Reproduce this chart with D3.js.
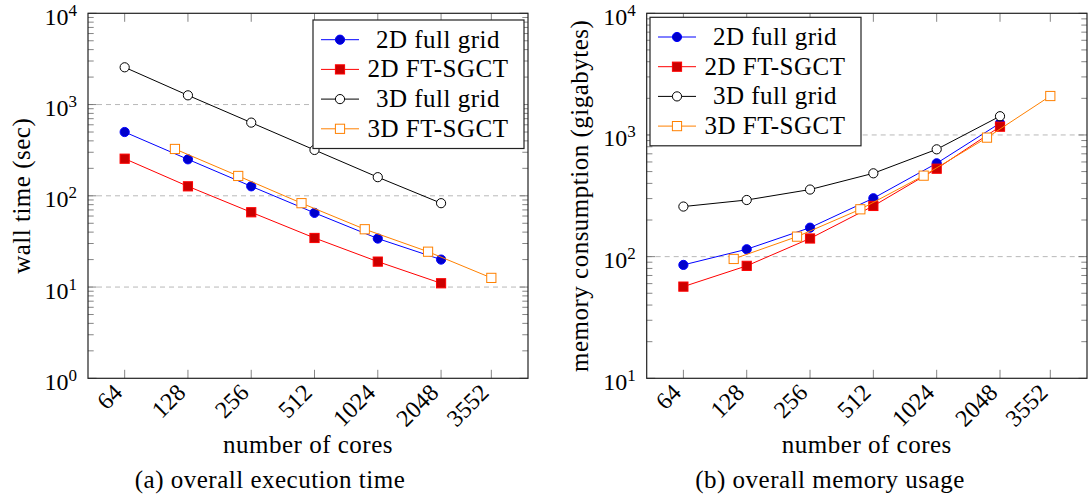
<!DOCTYPE html>
<head>
  <meta charset="utf-8">
  <script src="https://d3js.org/d3.v7.min.js"></script>
  <style>
    body { margin: 0; background: #fff; }
    svg text { fill: #000; }
    .tick-label { font-size: 24px; }
    .axis-label, .caption, .legend-label { font-size: 25px; letter-spacing: 0.5px; }
  </style>
</head>
<body>
<div id="chart"></div>
<script>

// ---------------- data ----------------
const cores = [64, 128, 256, 512, 1024, 2048];
const coresFT3D = [111, 222, 444, 888, 1776, 3552];
const tickCores = [64, 128, 256, 512, 1024, 2048, 3552];
const seriesNames = ["2D full grid", "2D FT-SGCT", "3D full grid", "3D FT-SGCT"];

// (a) wall time in seconds
const time2DFull = [500, 251, 127, 65, 34, 20];
const time2DFT = [255, 127, 66, 34.5, 19, 11];
const time3DFull = [2560, 1262, 634, 318, 160, 83];
const time3DFT = [326, 165, 83, 43, 24.4, 12.6];

// (b) memory in gigabytes
const mem2DFull = [85.5, 115, 173, 302, 585, 1250];
const mem2DFT = [56.7, 84, 141, 261, 528, 1170];
const mem3DFull = [258, 292, 356, 484, 762, 1426];
const mem3DFT = [95.7, 146, 245, 463, 951, 2090];

// ---------------- styles ----------------
const FONT = "Liberation Serif";
const styles = [
  { line: "#0000ff", mark: "circle", fill: "#0000cc" },
  { line: "#ff0000", mark: "square", fill: "#cc0000" },
  { line: "#000000", mark: "circle", fill: "#ffffff" },
  { line: "#ff8000", mark: "square", fill: "#ffffff" }
];

const width = 1090, height = 499;
const svg = d3.select("#chart").append("svg")
    .attr("width", width)
    .attr("height", height)
    .style("font-family", FONT);

function drawMarker(g, st, x, y) {
  if (st.mark === "circle") {
    g.append("circle").attr("cx", x).attr("cy", y).attr("r", 4.6)
      .attr("fill", st.fill).attr("stroke", st.line).attr("stroke-width", 1);
  } else {
    g.append("rect").attr("x", x - 4.6).attr("y", y - 4.6)
      .attr("width", 9.2).attr("height", 9.2)
      .attr("fill", st.fill).attr("stroke", st.line).attr("stroke-width", 1);
  }
}

function drawPanel(p) {
  const g = svg.append("g");

  // log2 x with 10% enlargement on each side
  const lo = Math.log2(d3.min(tickCores)), hi = Math.log2(d3.max(tickCores));
  const pad = (hi - lo) * 0.1;
  const x = d3.scaleLog().base(2)
      .domain([Math.pow(2, lo - pad), Math.pow(2, hi + pad)])
      .range([p.x0, p.x1]);
  const y = d3.scaleLog().domain(p.yDomain).range([p.y1, p.y0]);

  // dashed grid at decades
  const decades = [];
  for (let v = p.yDomain[0]; v <= p.yDomain[1] * 1.0001; v *= 10) decades.push(v);
  g.selectAll(".grid").data(decades.slice(1, -1)).enter().append("line")
    .attr("x1", p.x0).attr("x2", p.x1)
    .attr("y1", d => y(d)).attr("y2", d => y(d))
    .attr("stroke", "#b8b8b8").attr("stroke-width", 1)
    .attr("stroke-dasharray", "5,4");

  // minor y ticks
  const minors = [];
  decades.slice(0, -1).forEach(d => { for (let k = 2; k <= 9; k++) minors.push(d * k); });
  [[p.x0, 5.7], [p.x1, -5.7]].forEach(([x0, len]) => {
    g.selectAll(null).data(minors).enter().append("line")
      .attr("x1", x0).attr("x2", x0 + len)
      .attr("y1", d => y(d)).attr("y2", d => y(d))
      .attr("stroke", "#666").attr("stroke-width", 0.8);
    g.selectAll(null).data(decades).enter().append("line")
      .attr("x1", x0).attr("x2", x0 + len * 1.5)
      .attr("y1", d => y(d)).attr("y2", d => y(d))
      .attr("stroke", "#666").attr("stroke-width", 0.8);
  });

  // x ticks top and bottom
  [[p.y1, -8.5], [p.y0, 8.5]].forEach(([y0, len]) => {
    g.selectAll(null).data(tickCores).enter().append("line")
      .attr("x1", d => x(d)).attr("x2", d => x(d))
      .attr("y1", y0).attr("y2", y0 + len)
      .attr("stroke", "#666").attr("stroke-width", 0.8);
  });

  // y tick labels 10^n
  decades.forEach(d => {
    const t = g.append("text").attr("class", "tick-label")
      .attr("x", p.x0 - 11).attr("y", y(d) + 11.5)
      .attr("text-anchor", "end");
    t.append("tspan").text("10");
    t.append("tspan").attr("dy", -9).style("font-size", "17px")
      .text(Math.round(Math.log10(d)));
  });

  // x tick labels, rotated
  g.selectAll(null).data(tickCores).enter().append("text")
    .attr("class", "tick-label")
    .attr("text-anchor", "end")
    .attr("transform", d => `translate(${x(d) - 1},394) rotate(-45)`)
    .text(d => d);

  // series
  p.series.forEach((s, i) => {
    const st = styles[i];
    const pts = s.x.map((c, j) => [x(c), y(s.y[j])]);
    g.append("path").attr("d", d3.line()(pts))
      .attr("fill", "none").attr("stroke", st.line).attr("stroke-width", 1);
    pts.forEach(pt => drawMarker(g, st, pt[0], pt[1]));
  });

  // frame
  g.append("rect").attr("x", p.x0).attr("y", p.y0)
    .attr("width", p.x1 - p.x0).attr("height", p.y1 - p.y0)
    .attr("fill", "none").attr("stroke", "#222").attr("stroke-width", 1.2);

  // legend
  const lg = g.append("g").attr("transform", `translate(${p.legend[0]},${p.legend[1]})`);
  lg.append("rect").attr("width", 211).attr("height", 128.5)
    .attr("fill", "#fff").attr("stroke", "#222").attr("stroke-width", 1.2);
  seriesNames.forEach((name, i) => {
    const st = styles[i];
    const ly = 19.7 + i * 29.7;
    lg.append("line").attr("x1", 8).attr("x2", 46).attr("y1", ly).attr("y2", ly)
      .attr("stroke", st.line).attr("stroke-width", 1);
    drawMarker(lg, st, 27, ly);
    lg.append("text").attr("class", "legend-label")
      .attr("x", 125).attr("y", ly + 8).attr("text-anchor", "middle")
      .text(name);
  });

  // axis labels and caption
  g.append("text").attr("class", "axis-label")
    .attr("x", (p.x0 + p.x1) / 2).attr("y", 453)
    .attr("text-anchor", "middle").text("number of cores");
  g.append("text").attr("class", "axis-label")
    .attr("transform", `translate(${p.ylabelX},${(p.y0 + p.y1) / 2}) rotate(-90)`)
    .attr("text-anchor", "middle").text(p.ylabel);
  g.append("text").attr("class", "caption")
    .attr("x", p.captionX).attr("y", 488)
    .attr("text-anchor", "middle").text(p.caption);
}

drawPanel({
  x0: 88, x1: 528, y0: 13.3, y1: 378.3,
  yDomain: [1, 1e4],
  ylabel: "wall time (sec)", ylabelX: 30,
  caption: "(a) overall execution time", captionX: 270,
  legend: [313, 20],
  series: [
    { x: cores, y: time2DFull },
    { x: cores, y: time2DFT },
    { x: cores, y: time3DFull },
    { x: coresFT3D, y: time3DFT }
  ]
});

drawPanel({
  x0: 646.7, x1: 1087, y0: 13.3, y1: 378.3,
  yDomain: [10, 1e4],
  ylabel: "memory consumption (gigabytes)", ylabelX: 588,
  caption: "(b) overall memory usage", captionX: 830,
  legend: [650, 17.3],
  series: [
    { x: cores, y: mem2DFull },
    { x: cores, y: mem2DFT },
    { x: cores, y: mem3DFull },
    { x: coresFT3D, y: mem3DFT }
  ]
});
</script>
</body>
